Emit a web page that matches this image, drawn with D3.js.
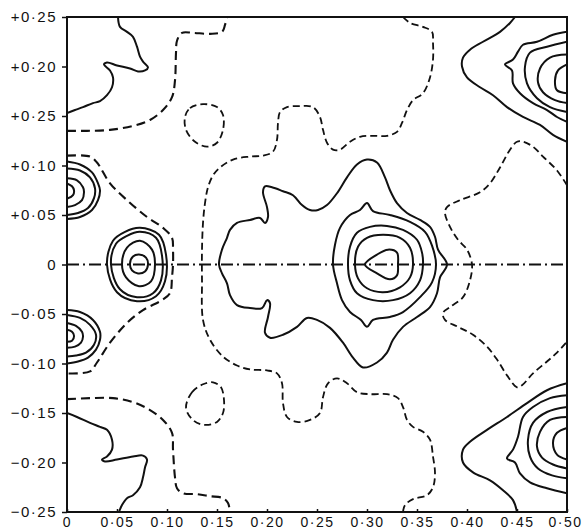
<!DOCTYPE html>
<html>
<head>
<meta charset="utf-8">
<script src="https://cdn.jsdelivr.net/npm/d3@7"></script>
<style>
  body { margin: 0; background: #fff; }
  text { font-family: "Liberation Sans", Arial, sans-serif; font-size: 15px; fill: #111; letter-spacing: 1.5px; }
  .x-axis text { font-size: 14px; }
</style>
</head>
<body>
<svg id="map" width="582" height="532"></svg>
<script>
// tick values and their printed labels (the third y label is printed +0·25 on the original)
const xTicks = [0, 0.05, 0.10, 0.15, 0.20, 0.25, 0.30, 0.35, 0.40, 0.45, 0.50];
const xLabels = ["0", "0·05", "0·10", "0·15", "0·20", "0·25", "0·30", "0·35", "0·40", "0·45", "0·50"];
const yTicks = [0.25, 0.20, 0.15, 0.10, 0.05, 0, -0.05, -0.10, -0.15, -0.20, -0.25];
const yLabels = ["+0·25", "+0·20", "+0·25", "+0·10", "+0·05", "0", "−0·05", "−0·10", "−0·15", "−0·20", "−0·25"];

// contour lines, [x, y] in map units
// solid contours running from edge to edge
const ridgeTopLeft = [[0.051,0.25],[0.053,0.240],[0.060,0.235],[0.066,0.230],[0.070,0.220],[0.073,0.210],[0.076,0.205],[0.081,0.199],[0.078,0.196],[0.071,0.195],[0.063,0.198],[0.050,0.201],[0.040,0.204],[0.037,0.202],[0.043,0.196],[0.046,0.189],[0.045,0.179],[0.040,0.171],[0.033,0.165],[0.026,0.163],[0.016,0.159],[0.008,0.156],[0,0.153]];
const ridgeBottomLeft = [[0,-0.150],[0.010,-0.154],[0.023,-0.160],[0.033,-0.164],[0.040,-0.167],[0.045,-0.177],[0.045,-0.187],[0.040,-0.194],[0.035,-0.197],[0.038,-0.199],[0.050,-0.197],[0.066,-0.194],[0.076,-0.193],[0.080,-0.197],[0.078,-0.205],[0.076,-0.215],[0.073,-0.225],[0.066,-0.233],[0.060,-0.236],[0.055,-0.243],[0.052,-0.25]];

const leftUpper = [
  [[0,0.104],[0.013,0.101],[0.025,0.093],[0.031,0.082],[0.033,0.075],[0.031,0.065],[0.025,0.055],[0.013,0.048],[0,0.046]],
  [[0,0.097],[0.013,0.095],[0.023,0.088],[0.028,0.077],[0.027,0.067],[0.021,0.057],[0.011,0.052],[0,0.050]],
  [[0,0.087],[0.010,0.085],[0.016,0.078],[0.017,0.073],[0.015,0.065],[0.008,0.060],[0,0.058]],
  [[0,0.082],[0.005,0.079],[0.007,0.075],[0.006,0.070],[0.001,0.067],[0,0.067]]
];
const leftLower = [
  [[0,-0.046],[0.013,-0.048],[0.026,-0.056],[0.033,-0.068],[0.033,-0.076],[0.029,-0.086],[0.021,-0.094],[0.011,-0.098],[0,-0.100]],
  [[0,-0.051],[0.013,-0.054],[0.023,-0.061],[0.029,-0.071],[0.027,-0.081],[0.019,-0.089],[0.009,-0.092],[0,-0.093]],
  [[0,-0.059],[0.009,-0.062],[0.015,-0.068],[0.016,-0.073],[0.014,-0.079],[0.008,-0.083],[0,-0.084]],
  [[0,-0.066],[0.005,-0.068],[0.007,-0.072],[0.005,-0.077],[0,-0.078]]
];
const rightUpper = [
  [[0.448,0.25],[0.443,0.244],[0.433,0.235],[0.416,0.225],[0.403,0.217],[0.396,0.209],[0.395,0.200],[0.400,0.189],[0.413,0.179],[0.426,0.171],[0.440,0.159],[0.456,0.149],[0.473,0.141],[0.486,0.131],[0.5,0.124]],
  [[0.5,0.235],[0.486,0.232],[0.470,0.225],[0.456,0.222],[0.451,0.215],[0.446,0.207],[0.438,0.202],[0.445,0.196],[0.446,0.183],[0.453,0.173],[0.466,0.163],[0.480,0.156],[0.490,0.149],[0.5,0.144]],
  [[0.5,0.225],[0.480,0.220],[0.463,0.214],[0.458,0.200],[0.460,0.183],[0.470,0.168],[0.483,0.159],[0.5,0.154]],
  [[0.5,0.212],[0.483,0.209],[0.473,0.198],[0.471,0.184],[0.476,0.174],[0.488,0.166],[0.5,0.163]],
  [[0.5,0.202],[0.491,0.196],[0.488,0.186],[0.490,0.176],[0.5,0.173]]
];
const rightLower = [
  [[0.5,-0.120],[0.480,-0.127],[0.460,-0.140],[0.440,-0.154],[0.420,-0.167],[0.403,-0.179],[0.396,-0.187],[0.396,-0.200],[0.406,-0.210],[0.423,-0.218],[0.436,-0.228],[0.446,-0.238],[0.450,-0.25]],
  [[0.5,-0.132],[0.483,-0.135],[0.466,-0.144],[0.456,-0.154],[0.451,-0.174],[0.446,-0.187],[0.440,-0.196],[0.448,-0.200],[0.453,-0.211],[0.463,-0.220],[0.480,-0.226],[0.5,-0.231]],
  [[0.5,-0.144],[0.480,-0.149],[0.466,-0.160],[0.461,-0.177],[0.463,-0.194],[0.471,-0.206],[0.485,-0.213],[0.5,-0.216]],
  [[0.5,-0.154],[0.483,-0.157],[0.473,-0.169],[0.470,-0.184],[0.475,-0.195],[0.486,-0.202],[0.5,-0.206]],
  [[0.5,-0.165],[0.490,-0.170],[0.486,-0.180],[0.490,-0.192],[0.5,-0.197]]
];

// closed solid contours
const leftMid = [
  [[0.073,0.037],[0.092,0.030],[0.099,0.010],[0.098,-0.017],[0.089,-0.032],[0.070,-0.037],[0.050,-0.028],[0.040,0.000],[0.046,0.024],[0.058,0.033]],
  [[0.073,0.033],[0.089,0.027],[0.095,0.009],[0.094,-0.016],[0.086,-0.029],[0.070,-0.033],[0.053,-0.025],[0.044,0.000],[0.049,0.021],[0.060,0.029]],
  [[0.073,0.024],[0.085,0.015],[0.088,0.000],[0.084,-0.017],[0.072,-0.022],[0.059,-0.013],[0.055,0.000],[0.060,0.017]],
  [[0.072,0.010],[0.079,0.007],[0.081,0.000],[0.078,-0.007],[0.071,-0.009],[0.065,-0.006],[0.063,0.001],[0.066,0.008]]
];
const centre = [
  [[0.152,0.000],[0.155,0.015],[0.160,0.027],[0.163,0.035],[0.170,0.042],[0.183,0.045],[0.193,0.047],[0.198,0.042],[0.201,0.048],[0.200,0.058],[0.196,0.073],[0.198,0.079],[0.205,0.078],[0.216,0.074],[0.226,0.070],[0.235,0.060],[0.243,0.055],[0.251,0.055],[0.260,0.060],[0.270,0.072],[0.280,0.088],[0.290,0.101],[0.300,0.106],[0.310,0.103],[0.318,0.088],[0.323,0.075],[0.330,0.062],[0.340,0.052],[0.353,0.045],[0.363,0.038],[0.368,0.028],[0.371,0.015],[0.380,0.000],[0.373,-0.013],[0.370,-0.029],[0.363,-0.043],[0.350,-0.053],[0.336,-0.063],[0.326,-0.076],[0.320,-0.089],[0.310,-0.099],[0.296,-0.104],[0.286,-0.094],[0.276,-0.079],[0.263,-0.064],[0.250,-0.056],[0.240,-0.054],[0.230,-0.063],[0.216,-0.071],[0.203,-0.074],[0.198,-0.069],[0.201,-0.053],[0.203,-0.039],[0.200,-0.036],[0.195,-0.044],[0.183,-0.044],[0.170,-0.041],[0.163,-0.031],[0.160,-0.019],[0.155,-0.009]],
  [[0.266,0.000],[0.268,0.020],[0.273,0.037],[0.283,0.050],[0.293,0.055],[0.300,0.062],[0.306,0.054],[0.323,0.050],[0.343,0.043],[0.358,0.033],[0.365,0.019],[0.369,0.000],[0.365,-0.018],[0.353,-0.033],[0.336,-0.048],[0.323,-0.053],[0.306,-0.056],[0.300,-0.063],[0.294,-0.056],[0.283,-0.048],[0.275,-0.036],[0.270,-0.019]],
  [[0.281,0.000],[0.283,0.018],[0.290,0.032],[0.303,0.038],[0.320,0.039],[0.336,0.035],[0.350,0.025],[0.355,0.012],[0.356,0.000],[0.353,-0.016],[0.343,-0.029],[0.326,-0.036],[0.306,-0.036],[0.290,-0.029],[0.283,-0.016]],
  [[0.288,0.000],[0.291,0.018],[0.300,0.027],[0.316,0.030],[0.333,0.027],[0.343,0.017],[0.346,0.000],[0.343,-0.013],[0.333,-0.023],[0.316,-0.028],[0.300,-0.024],[0.291,-0.014]],
  [[0.298,0.000],[0.310,0.010],[0.321,0.015],[0.330,0.012],[0.331,0.000],[0.330,-0.011],[0.323,-0.015],[0.310,-0.009]]
];

// dashed contours
const dashTopLeft = [[0,0.135],[0.020,0.135],[0.043,0.136],[0.066,0.140],[0.083,0.146],[0.096,0.156],[0.105,0.169],[0.108,0.186],[0.109,0.214],[0.110,0.226],[0.115,0.234],[0.126,0.234],[0.143,0.233],[0.155,0.235],[0.158,0.242],[0.160,0.25]];
const dashBottomLeft = [[0,-0.136],[0.023,-0.135],[0.046,-0.135],[0.066,-0.139],[0.083,-0.147],[0.096,-0.157],[0.105,-0.170],[0.106,-0.187],[0.108,-0.215],[0.110,-0.226],[0.116,-0.231],[0.130,-0.232],[0.143,-0.234],[0.156,-0.236],[0.161,-0.241],[0.163,-0.25]];
const dashLeft = [[0,0.110],[0.023,0.109],[0.030,0.103],[0.043,0.082],[0.060,0.065],[0.080,0.048],[0.096,0.037],[0.105,0.027],[0.106,0.015],[0.106,0.000],[0.105,-0.013],[0.103,-0.029],[0.095,-0.036],[0.076,-0.046],[0.060,-0.059],[0.043,-0.079],[0.030,-0.099],[0.023,-0.108],[0,-0.110]];
const dashCentre = [[0.336,0.25],[0.343,0.244],[0.356,0.240],[0.365,0.235],[0.366,0.224],[0.366,0.207],[0.363,0.189],[0.356,0.173],[0.346,0.166],[0.340,0.156],[0.335,0.143],[0.330,0.134],[0.320,0.130],[0.306,0.130],[0.293,0.129],[0.283,0.124],[0.273,0.116],[0.266,0.116],[0.260,0.123],[0.256,0.136],[0.253,0.149],[0.246,0.159],[0.233,0.160],[0.220,0.159],[0.213,0.154],[0.211,0.143],[0.210,0.126],[0.206,0.114],[0.196,0.110],[0.183,0.109],[0.166,0.106],[0.153,0.098],[0.146,0.090],[0.141,0.078],[0.138,0.062],[0.136,0.042],[0.135,0.015],[0.135,-0.016],[0.136,-0.056],[0.143,-0.076],[0.156,-0.093],[0.170,-0.102],[0.183,-0.106],[0.200,-0.107],[0.210,-0.110],[0.215,-0.120],[0.216,-0.140],[0.220,-0.154],[0.230,-0.159],[0.243,-0.157],[0.253,-0.150],[0.256,-0.134],[0.261,-0.120],[0.270,-0.115],[0.280,-0.120],[0.290,-0.129],[0.303,-0.131],[0.320,-0.131],[0.331,-0.135],[0.336,-0.144],[0.340,-0.157],[0.346,-0.164],[0.356,-0.169],[0.363,-0.177],[0.366,-0.194],[0.368,-0.211],[0.366,-0.225],[0.360,-0.233],[0.346,-0.237],[0.338,-0.243],[0.336,-0.25]];
const dashRight = [[0.5,0.080],[0.490,0.095],[0.476,0.109],[0.466,0.119],[0.456,0.124],[0.450,0.124],[0.443,0.116],[0.433,0.098],[0.423,0.082],[0.413,0.073],[0.393,0.065],[0.380,0.058],[0.378,0.052],[0.383,0.038],[0.391,0.025],[0.400,0.015],[0.405,0.000],[0.403,-0.016],[0.396,-0.033],[0.383,-0.043],[0.376,-0.049],[0.378,-0.056],[0.391,-0.063],[0.406,-0.071],[0.420,-0.083],[0.430,-0.096],[0.440,-0.112],[0.450,-0.124],[0.455,-0.122],[0.466,-0.110],[0.480,-0.098],[0.490,-0.089],[0.5,-0.078]];
const loopTop = [[0.118,0.149],[0.123,0.158],[0.136,0.162],[0.150,0.159],[0.156,0.151],[0.156,0.136],[0.150,0.123],[0.140,0.119],[0.128,0.124],[0.119,0.136]];
const loopBottom = [[0.119,-0.145],[0.125,-0.129],[0.136,-0.121],[0.146,-0.119],[0.154,-0.124],[0.157,-0.137],[0.156,-0.150],[0.150,-0.159],[0.138,-0.162],[0.127,-0.158]];

const svg = d3.select('#map');
const margin = { left: 67, right: 567, top: 17, bottom: 512 };

const x = d3.scaleLinear().domain([0, 0.5]).range([margin.left, margin.right]);
const y = d3.scaleLinear().domain([-0.25, 0.25]).range([margin.bottom, margin.top]);

svg.append('clipPath')
  .attr('id', 'plot-clip')
  .append('rect')
  .attr('x', margin.left).attr('y', margin.top)
  .attr('width', margin.right - margin.left).attr('height', margin.bottom - margin.top);

const plot = svg.append('g').attr('clip-path', 'url(#plot-clip)');

const openLine = d3.line()
  .x(d => x(d[0]))
  .y(d => y(d[1]))
  .curve(d3.curveCatmullRom.alpha(0.5));

const closedLine = d3.line()
  .x(d => x(d[0]))
  .y(d => y(d[1]))
  .curve(d3.curveCatmullRomClosed.alpha(0.5));

// section line through y = 0
plot.append('line')
  .attr('x1', x(0)).attr('x2', x(0.5))
  .attr('y1', y(0)).attr('y2', y(0))
  .attr('stroke', '#111')
  .attr('stroke-width', 1.8)
  .attr('stroke-dasharray', '12,4,2,4');

function draw(lines, gen, dash, width) {
  plot.append('g')
    .selectAll('path')
    .data(lines)
    .enter()
    .append('path')
    .attr('d', gen)
    .attr('fill', 'none')
    .attr('stroke', '#111')
    .attr('stroke-width', width)
    .attr('stroke-linejoin', 'round')
    .attr('stroke-dasharray', dash);
}

draw([ridgeTopLeft, ridgeBottomLeft, ...leftUpper, ...leftLower, ...rightUpper, ...rightLower], openLine, null, 2);
draw([...leftMid, ...centre], closedLine, null, 2);
draw([dashTopLeft, dashBottomLeft, dashLeft], openLine, '9,5', 2.1);
draw([dashCentre, dashRight], openLine, '7,4', 1.8);
draw([loopTop, loopBottom], closedLine, '7,4', 1.8);

// axes
const yAxis = d3.axisLeft(y)
  .tickValues(yTicks)
  .tickFormat((d, i) => yLabels[i])
  .tickSize(5)
  .tickPadding(5);

const xAxis = d3.axisBottom(x)
  .tickValues(xTicks)
  .tickFormat((d, i) => xLabels[i])
  .tickSize(-3)
  .tickPadding(5);

const gy = svg.append('g').attr('transform', `translate(${margin.left},0)`).call(yAxis);
const gx = svg.append('g').attr('class', 'x-axis').attr('transform', `translate(0,${margin.bottom})`).call(xAxis);

[gy, gx].forEach(g => {
  g.select('.domain').remove();
  g.selectAll('line').attr('stroke', '#111').attr('stroke-width', 1.5);
  g.selectAll('text')
    .attr('font-family', null)
    .attr('font-size', null)
    .attr('fill', '#111');
});

// keep the last x label inside the picture
gx.selectAll('.tick:last-of-type text').attr('text-anchor', 'end').attr('x', 15);

// frame
svg.append('rect')
  .attr('x', margin.left).attr('y', margin.top)
  .attr('width', margin.right - margin.left).attr('height', margin.bottom - margin.top)
  .attr('fill', 'none')
  .attr('stroke', '#111')
  .attr('stroke-width', 2);
</script>
</body>
</html>
